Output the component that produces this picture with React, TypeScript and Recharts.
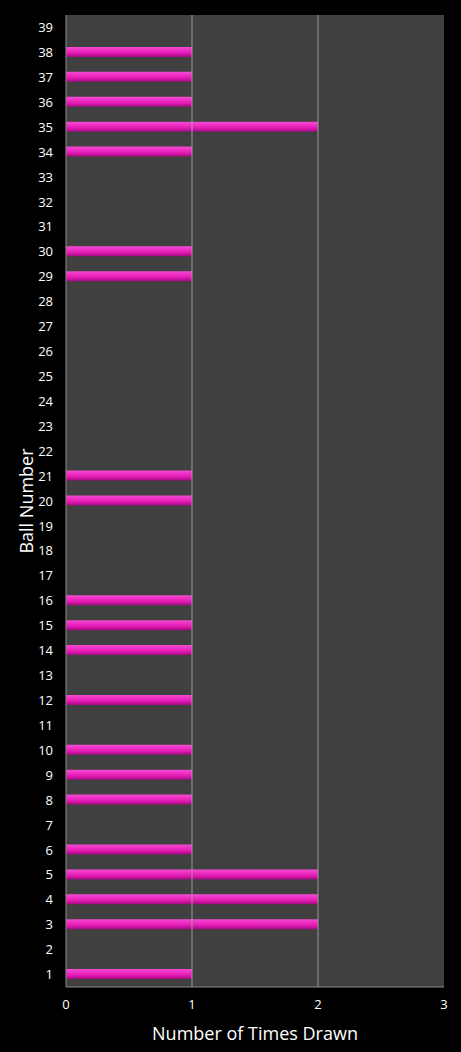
import React from "react";
import { BarChart, Bar, XAxis, YAxis, CartesianGrid, ReferenceLine, Label } from "recharts";

const balls: number[] = [1,2,3,4,5,6,7,8,9,10,11,12,13,14,15,16,17,18,19,20,21,22,23,24,25,26,27,28,29,30,31,32,33,34,35,36,37,38,39];
const timesDrawn: number[] = [1,0,2,2,2,1,0,1,1,1,0,1,0,1,1,1,0,0,0,1,1,0,0,0,0,0,0,0,1,1,0,0,0,1,2,1,1,1,0];
const xTicks: number[] = [0, 1, 2, 3];

const data = balls.map((b, i) => ({ ball: String(b), count: timesDrawn[i] }));

const font = "'Open Sans', 'DejaVu Sans', sans-serif";

export default function App() {
  return (
    <div style={{ position: "fixed", left: 0, top: 0, width: 461, height: 1052, background: "#000" }}>
      <BarChart
        width={461}
        height={1052}
        data={data}
        layout="vertical"
        margin={{ top: 15, right: 17, bottom: 0, left: 0 }}
        barCategoryGap={0}
      >
        <defs>
          <linearGradient id="barGrad" x1="0" y1="0" x2="0" y2="1">
            <stop offset="0%" stopColor="#f24cd0" />
            <stop offset="35%" stopColor="#ee2ec4" />
            <stop offset="65%" stopColor="#e018b0" />
            <stop offset="100%" stopColor="#a00c80" />
          </linearGradient>
        </defs>
        <CartesianGrid horizontal={false} vertical={false} fill="#404040" />
        <ReferenceLine x={1} stroke="#9a9a9a" strokeWidth={1} />
        <ReferenceLine x={2} stroke="#9a9a9a" strokeWidth={1} />
        <XAxis
          type="number"
          domain={[0, 3]}
          ticks={xTicks}
          interval={0}
          tickLine={false}
          tickSize={0}
          tickMargin={13}
          axisLine={{ stroke: "#8a8a8a" }}
          tick={{ fill: "#ffffff", fontSize: 13, fontFamily: font }}
          height={65}
        >
          <Label
            value="Number of Times Drawn"
            position="insideBottom"
            offset={12}
            style={{ fill: "#ffffff", fontSize: 18, fontFamily: font }}
          />
        </XAxis>
        <YAxis
          type="category"
          dataKey="ball"
          reversed
          width={66}
          interval={0}
          tickLine={false}
          tickSize={0}
          tickMargin={13}
          axisLine={{ stroke: "#8a8a8a" }}
          tick={{ fill: "#ffffff", fontSize: 13, fontFamily: font }}
        >
          <Label
            value="Ball Number"
            angle={-90}
            position="insideLeft"
            offset={27}
            style={{ fill: "#ffffff", fontSize: 18, fontFamily: font, textAnchor: "middle" }}
          />
        </YAxis>
        <Bar dataKey="count" fill="url(#barGrad)" barSize={10} isAnimationActive={false} />
      </BarChart>
    </div>
  );
}
